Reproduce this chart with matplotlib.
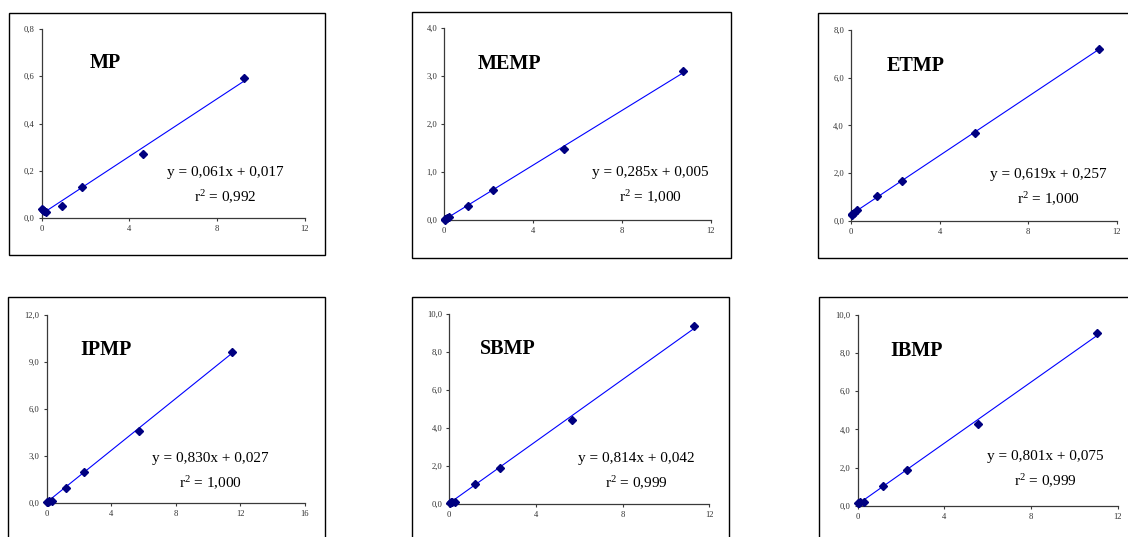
import matplotlib as mpl
import matplotlib.pyplot as plt
from matplotlib.patches import Rectangle
from matplotlib.ticker import FixedLocator, FuncFormatter

mpl.use("Agg")

# calibration data: concentration (x) vs. response (y) for each compound
names = ["MP", "MEMP", "ETMP", "IPMP", "SBMP", "IBMP"]

mp_x = [0.02, 0.05, 0.10, 0.20, 0.94, 1.82, 4.63, 9.23]
mp_y = [0.040, 0.033, 0.030, 0.024, 0.051, 0.133, 0.270, 0.594]

memp_x = [0.02, 0.05, 0.11, 0.22, 1.08, 2.19, 5.38, 10.77]
memp_y = [0.01, 0.02, 0.04, 0.07, 0.29, 0.62, 1.48, 3.11]

etmp_x = [0.03, 0.06, 0.12, 0.29, 1.16, 2.29, 5.60, 11.18]
etmp_y = [0.26, 0.29, 0.33, 0.45, 1.05, 1.65, 3.67, 7.19]

ipmp_x = [0.03, 0.06, 0.12, 0.30, 1.18, 2.29, 5.74, 11.46]
ipmp_y = [0.03, 0.06, 0.10, 0.12, 0.92, 1.97, 4.60, 9.62]

sbmp_x = [0.03, 0.06, 0.12, 0.28, 1.19, 2.32, 5.66, 11.29]
sbmp_y = [0.07, 0.09, 0.10, 0.12, 1.04, 1.91, 4.42, 9.37]

ibmp_x = [0.02, 0.05, 0.10, 0.28, 1.18, 2.26, 5.54, 11.06]
ibmp_y = [0.12, 0.15, 0.18, 0.22, 1.05, 1.86, 4.28, 9.07]

# linear fit results (slope, intercept, r2)
slopes = [0.061, 0.285, 0.619, 0.830, 0.814, 0.801]
intercepts = [0.017, 0.005, 0.257, 0.027, 0.042, 0.075]
r2_values = [0.992, 1.000, 1.000, 1.000, 0.999, 0.999]

x_ticks = [[0, 4, 8, 12]] * 3 + [[0, 4, 8, 12, 16], [0, 4, 8, 12], [0, 4, 8, 12]]
y_ticks = [
    [0.0, 0.2, 0.4, 0.6, 0.8],
    [0.0, 1.0, 2.0, 3.0, 4.0],
    [0.0, 2.0, 4.0, 6.0, 8.0],
    [0.0, 3.0, 6.0, 9.0, 12.0],
    [0.0, 2.0, 4.0, 6.0, 8.0, 10.0],
    [0.0, 2.0, 4.0, 6.0, 8.0, 10.0],
]

xs = [mp_x, memp_x, etmp_x, ipmp_x, sbmp_x, ibmp_x]
ys = [mp_y, memp_y, etmp_y, ipmp_y, sbmp_y, ibmp_y]

W, H = 1128, 537

# pixel layout: frame box, plot area (left, right, bottom, top), title pos, equation centre
frames = [
    (9.3, 12.7, 325, 255),
    (411.7, 11.7, 730.7, 257.7),
    (818.3, 12.7, 1140, 258.3),
    (8.3, 297.3, 325, 550),
    (411.7, 296.7, 729.3, 550),
    (819.3, 297.3, 1140, 550),
]
plot_areas = [
    (41.7, 305, 218, 29),
    (444.3, 710.7, 220, 28.3),
    (851, 1116.7, 220.7, 30),
    (46.7, 305, 502.7, 315),
    (449.3, 709.3, 504, 314),
    (857.7, 1117.7, 505.7, 315),
]
title_pos = [(90, 68), (478, 69), (887, 70.7), (80, 355), (480, 354), (890, 355.7)]
eq_pos = [(225, 175.7), (650, 175.7), (1048.8, 177.7), (210, 461.7), (636.3, 461.7), (1045.5, 460)]

plt.rcParams["font.family"] = ["Liberation Serif", "DejaVu Serif"]
plt.rcParams["mathtext.fontset"] = "custom"
plt.rcParams["mathtext.rm"] = "Liberation Serif"

AXIS_GREY = "#3a3a3a"


def fx(px):
    return px / W


def fy(py):
    return 1 - py / H


def comma(v, decimals):
    return f"{v:.{decimals}f}".replace(".", ",")


fig = plt.figure(figsize=(W / 100, H / 100), dpi=100)

for i, name in enumerate(names):
    bx0, by0, bx1, by1 = frames[i]
    fig.add_artist(Rectangle((fx(bx0), fy(by1)), fx(bx1 - bx0), (by1 - by0) / H,
                             transform=fig.transFigure, fill=False, edgecolor="black", linewidth=1.0))

    l, r, b, t = plot_areas[i]
    ax = fig.add_axes([fx(l), fy(b), fx(r - l), (b - t) / H])
    ax.set_facecolor("none")

    xmax = x_ticks[i][-1]
    ymax = y_ticks[i][-1]
    ax.set_xlim(0, xmax)
    ax.set_ylim(0, ymax)

    # fitted line across the data range
    x_line = [min(xs[i]), max(xs[i])]
    y_line = [slopes[i] * v + intercepts[i] for v in x_line]
    ax.plot(x_line, y_line, color="#0000ff", linewidth=0.8, zorder=2)
    ax.plot(xs[i], ys[i], linestyle="none", marker="D", markersize=4.4,
            color="#000080", clip_on=False, zorder=3)

    for side in ["top", "right"]:
        ax.spines[side].set_visible(False)
    for side in ["left", "bottom"]:
        ax.spines[side].set_color(AXIS_GREY)
        ax.spines[side].set_linewidth(0.9)

    ax.xaxis.set_major_locator(FixedLocator(x_ticks[i]))
    ax.yaxis.set_major_locator(FixedLocator(y_ticks[i]))
    ax.xaxis.set_major_formatter(FuncFormatter(lambda v, p: comma(v, 0)))
    ax.yaxis.set_major_formatter(FuncFormatter(lambda v, p: comma(v, 1)))
    ax.tick_params(direction="out", length=2.5, width=0.8, color=AXIS_GREY,
                   labelsize=6.2, labelcolor="#333333", pad=2.5)

    tx, ty = title_pos[i]
    fig.text(fx(tx), fy(ty), name, fontsize=14.5, fontweight="bold",
             ha="left", va="baseline", color="black")

    ex, ey = eq_pos[i]
    fig.text(fx(ex), fy(ey), f"y = {comma(slopes[i], 3)}x + {comma(intercepts[i], 3)}",
             fontsize=11, ha="center", va="baseline", color="black")
    fig.text(fx(ex), fy(ey + 26), r"$\mathregular{r^{2}}$" + f" = {comma(r2_values[i], 3)}",
             fontsize=11, ha="center", va="baseline", color="black")

plt.savefig("out.png", dpi=100)
plt.close()
